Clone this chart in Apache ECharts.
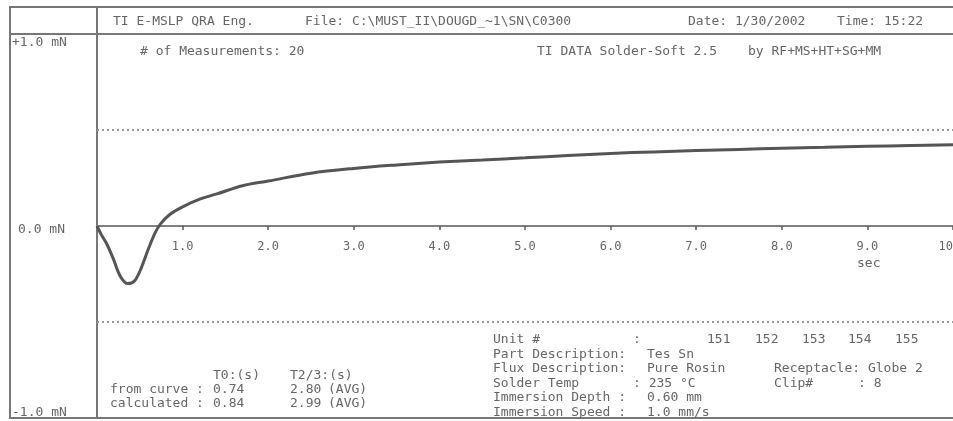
<!DOCTYPE html>
<html>
<head>
<meta charset="utf-8">
<script src="https://cdn.jsdelivr.net/npm/echarts@6/dist/echarts.min.js"></script>
<style>
  html, body { margin: 0; padding: 0; background: #fff; }
  #chart { width: 953px; height: 421px; }
</style>
</head>
<body>
<div id="chart"></div>
<script>
// wetting balance curve
const timeSec = [0, 0.05, 0.11, 0.19, 0.27, 0.36, 0.44, 0.52, 0.60, 0.68, 0.74, 0.85, 1.0, 1.2, 1.4, 1.7, 2.0, 2.5, 3.0, 3.5, 4.0, 4.5, 5.0, 5.5, 6.0, 6.5, 7.0, 7.5, 8.0, 8.5, 9.0, 9.5, 10.0];
const forceMN = [0, -0.045, -0.09, -0.17, -0.26, -0.30, -0.285, -0.215, -0.12, -0.035, 0.01, 0.06, 0.10, 0.14, 0.167, 0.21, 0.234, 0.275, 0.30, 0.318, 0.333, 0.344, 0.355, 0.367, 0.378, 0.386, 0.393, 0.399, 0.405, 0.41, 0.415, 0.419, 0.423];
const limitLines = [0.5, -0.5];
const yTickLabels = {'1': '+1.0 mN', '0': '0.0 mN', '-1': '-1.0 mN'};

const FONT = 'DejaVu Sans Mono';
const TXT = '#666';
const LINE = '#808080';
const GRID_TOP = 34, GRID_BOTTOM = 3;
const PLOT_H = 421 - GRID_TOP - GRID_BOTTOM;

let myChart = echarts.init(document.getElementById('chart'));

// little helper for the static text of the report sheet
function txt(x, y, s){
    return {type: 'text', x: x, y: y, silent: true,
        style: {text: s, fill: TXT, font: '13px "' + FONT + '"', textVerticalAlign: 'middle'}};
}

const texts = [
    txt(113, 22, 'TI E-MSLP QRA Eng.'),
    txt(305, 22, 'File: C:\\MUST_II\\DOUGD_~1\\SN\\C0300'),
    txt(688, 22, 'Date: 1/30/2002'),
    txt(837, 22, 'Time: 15:22'),
    txt(140, 52, '# of Measurements: 20'),
    txt(537, 52, 'TI DATA Solder-Soft 2.5'),
    txt(748, 52, 'by RF+MS+HT+SG+MM'),
    txt(857, 264, 'sec'),
    txt(213, 376, 'T0:(s)'),
    txt(290, 376, 'T2/3:(s)'),
    txt(110, 390, 'from curve :'),
    txt(213, 390, '0.74'),
    txt(290, 390, '2.80'),
    txt(328, 390, '(AVG)'),
    txt(110, 404, 'calculated :'),
    txt(213, 404, '0.84'),
    txt(290, 404, '2.99'),
    txt(328, 404, '(AVG)'),
    txt(493, 340, 'Unit #'),
    txt(633, 340, ':'),
    txt(707, 340, '151'),
    txt(755, 340, '152'),
    txt(802, 340, '153'),
    txt(848, 340, '154'),
    txt(895, 340, '155'),
    txt(493, 355, 'Part Description:'),
    txt(647, 355, 'Tes Sn'),
    txt(493, 369, 'Flux Description:'),
    txt(647, 369, 'Pure Rosin'),
    txt(774, 369, 'Receptacle: Globe 2'),
    txt(493, 384, 'Solder Temp'),
    txt(633, 384, ': 235 °C'),
    txt(774, 384, 'Clip#'),
    txt(858, 384, ': 8'),
    txt(493, 398, 'Immersion Depth :'),
    txt(647, 398, '0.60 mm'),
    txt(493, 413, 'Immersion Speed :'),
    txt(647, 413, '1.0 mm/s')
];

// frame of the report
const frame = [
    {type: 'rect', shape: {x: 10, y: 7, width: 960, height: 411}, silent: true,
        style: {fill: 'none', stroke: '#777', lineWidth: 2}},
    {type: 'line', shape: {x1: 10, y1: 34, x2: 953, y2: 34}, silent: true,
        style: {stroke: '#777', lineWidth: 2}},
    {type: 'line', shape: {x1: 97, y1: 7, x2: 97, y2: 34}, silent: true,
        style: {stroke: '#777', lineWidth: 2}}
];

let option = {
    animation: false,
    grid: {left: 97, right: 0, top: GRID_TOP, bottom: GRID_BOTTOM, containLabel: false, outerBoundsMode: 'none'},
    xAxis: {
        type: 'value',
        min: 0,
        max: 10,
        interval: 1,
        // axis sits on the zero line, in the middle of the plot
        offset: -PLOT_H / 2,
        splitLine: {show: false},
        axisLine: {onZero: false, lineStyle: {color: LINE, width: 2}},
        axisTick: {length: 4, lineStyle: {color: '#555', width: 1.5}},
        axisLabel: {
            margin: 15,
            color: TXT,
            fontFamily: FONT,
            fontSize: 12,
            showMinLabel: false,
            formatter: v => v.toFixed(1)
        }
    },
    yAxis: {
        type: 'value',
        min: -1,
        max: 1,
        interval: 1,
        splitLine: {show: false},
        axisTick: {show: false},
        axisLine: {lineStyle: {color: '#777', width: 2}},
        axisLabel: {
            align: 'left',
            margin: 85,
            color: TXT,
            fontFamily: FONT,
            fontSize: 13,
            formatter: v => {
                const s = yTickLabels[String(v)];
                if(v > 0) return '{hi|' + s + '}';
                if(v < 0) return '{lo|' + s + '}';
                return '{mid|' + s + '}';
            },
            rich: {
                hi: {padding: [18, 0, 0, 0], color: TXT, fontFamily: FONT, fontSize: 13},
                mid: {padding: [8, 0, 0, 6], color: TXT, fontFamily: FONT, fontSize: 13},
                lo: {padding: [0, 0, 10, 0], color: TXT, fontFamily: FONT, fontSize: 13}
            }
        }
    },
    graphic: frame.concat(texts),
    series: [
        {
            type: 'line',
            data: timeSec.map((t, i) => [t, forceMN[i]]),
            smooth: 0.35,
            showSymbol: false,
            lineStyle: {color: '#555', width: 3},
            markLine: {
                silent: true,
                symbol: 'none',
                label: {show: false},
                lineStyle: {color: '#999', type: [2, 3], width: 2},
                data: limitLines.map(v => ({yAxis: v}))
            }
        }
    ]
};

myChart.setOption(option);
</script>
</body>
</html>
